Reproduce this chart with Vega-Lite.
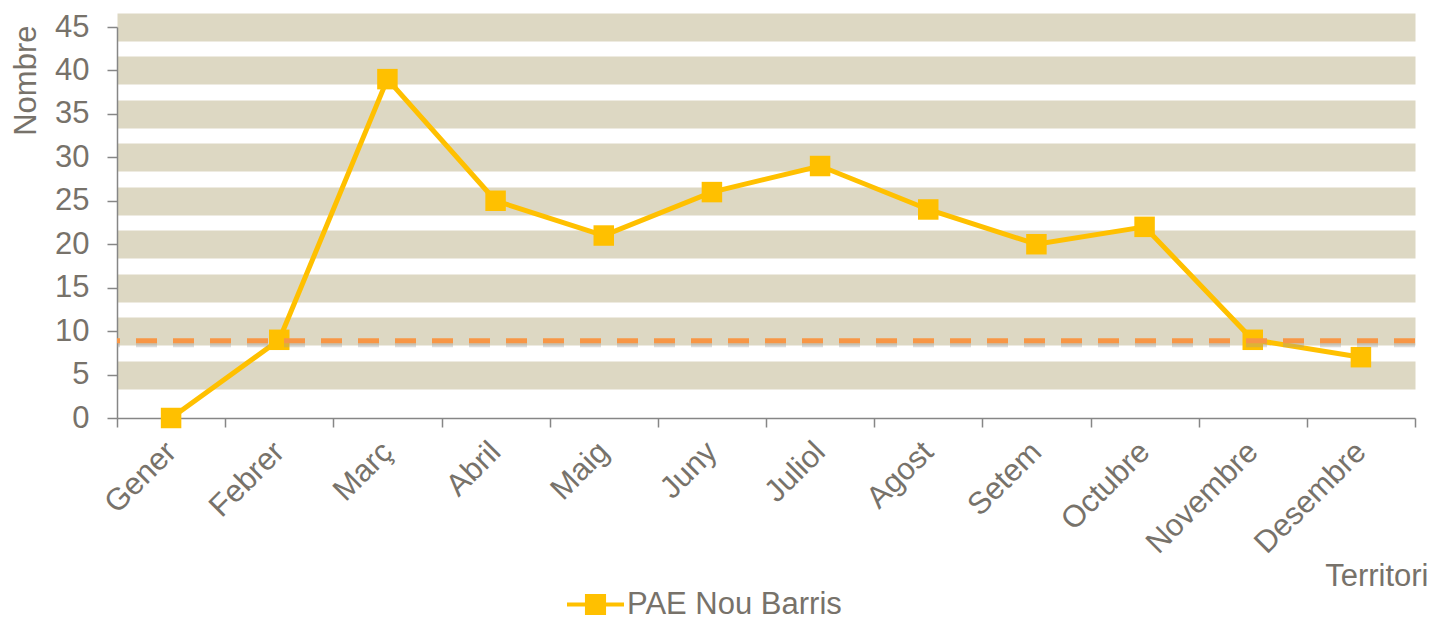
{
  "$schema": "https://vega.github.io/schema/vega-lite/v6.json",
  "width": 1298,
  "height": 391,
  "autosize": {"type": "none"},
  "padding": {"left": 117, "top": 27, "right": 18, "bottom": 201},
  "background": "white",
  "config": {
    "view": {"stroke": null},
    "font": "Liberation Sans",
    "axis": {"labelFont": "Liberation Sans", "titleFont": "Liberation Sans"}
  },
  "layer": [
    {
      "data": {
        "values": [
          {"mes": "Gener", "nombre": 0, "serie": "PAE Nou Barris"},
          {"mes": "Febrer", "nombre": 9, "serie": "PAE Nou Barris"},
          {"mes": "Març", "nombre": 39, "serie": "PAE Nou Barris"},
          {"mes": "Abril", "nombre": 25, "serie": "PAE Nou Barris"},
          {"mes": "Maig", "nombre": 21, "serie": "PAE Nou Barris"},
          {"mes": "Juny", "nombre": 26, "serie": "PAE Nou Barris"},
          {"mes": "Juliol", "nombre": 29, "serie": "PAE Nou Barris"},
          {"mes": "Agost", "nombre": 24, "serie": "PAE Nou Barris"},
          {"mes": "Setem", "nombre": 20, "serie": "PAE Nou Barris"},
          {"mes": "Octubre", "nombre": 22, "serie": "PAE Nou Barris"},
          {"mes": "Novembre", "nombre": 9, "serie": "PAE Nou Barris"},
          {"mes": "Desembre", "nombre": 7, "serie": "PAE Nou Barris"}
        ]
      },
      "mark": {
        "type": "line",
        "strokeWidth": 5,
        "point": {"shape": "square", "size": 420, "filled": true, "opacity": 1}
      },
      "encoding": {
        "x": {
          "field": "mes",
          "type": "nominal",
          "sort": null,
          "scale": {"type": "band", "paddingInner": 0, "paddingOuter": 0},
          "axis": {
            "title": "Territori",
            "titleFontSize": 31,
            "titleFontWeight": "normal",
            "titleColor": "#77726A",
            "titleAlign": "right",
            "titleBaseline": "alphabetic",
            "titleAngle": 0,
            "titleX": 1311,
            "titleY": 167,
            "labelAngle": -45,
            "labelAlign": "right",
            "labelBaseline": "middle",
            "labelPadding": 20,
            "labelFontSize": 31,
            "labelColor": "#77726A",
            "labelOverlap": false,
            "labelBound": false,
            "labelFlush": false,
            "labelLimit": 0,
            "tickBand": "extent",
            "tickSize": 9,
            "tickColor": "#868686",
            "tickWidth": 1.5,
            "domainColor": "#868686",
            "domainWidth": 1.5,
            "grid": false
          }
        },
        "y": {
          "field": "nombre",
          "type": "quantitative",
          "scale": {"domain": [0, 45], "nice": false, "zero": true},
          "axis": {
            "title": "Nombre",
            "titleFontSize": 31,
            "titleFontWeight": "normal",
            "titleColor": "#77726A",
            "titleAngle": -90,
            "titleAlign": "right",
            "titleBaseline": "alphabetic",
            "titleX": -82,
            "titleY": -2,
            "values": [0, 5, 10, 15, 20, 25, 30, 35, 40, 45],
            "labelFontSize": 31,
            "labelColor": "#77726A",
            "labelPadding": 18,
            "labelFlush": false,
            "labelBound": false,
            "tickSize": 10,
            "tickColor": "#868686",
            "tickWidth": 1.5,
            "domainColor": "#868686",
            "domainWidth": 1.5,
            "grid": true,
            "gridColor": "#DDD8C3",
            "gridWidth": 28,
            "gridOpacity": {"condition": {"test": "datum.value === 0", "value": 0}, "value": 1}
          }
        },
        "color": {
          "field": "serie",
          "type": "nominal",
          "scale": {"range": ["#FFC000"]},
          "legend": {
            "title": null,
            "orient": "none",
            "legendX": 448,
            "legendY": 547,
            "padding": 0,
            "symbolType": "M-1,0L1,0M-0.3,-0.3L0.3,-0.3L0.3,0.3L-0.3,0.3Z",
            "symbolSize": 3249,
            "symbolStrokeWidth": 4,
            "symbolFillColor": "#FFC000",
            "symbolStrokeColor": "#FFC000",
            "labelFontSize": 31,
            "labelColor": "#77726A",
            "labelOffset": 1,
            "labelLimit": 0,
            "labelBaseline": "middle"
          }
        }
      }
    },
    {
      "data": {"values": [{"mitjana": 8.9}]},
      "mark": {"type": "rule", "color": "#9A9A9A", "opacity": 0.35, "strokeWidth": 5, "strokeDash": [21, 16], "yOffset": 4},
      "encoding": {"y": {"field": "mitjana", "type": "quantitative"}}
    },
    {
      "data": {"values": [{"mitjana": 8.9}]},
      "mark": {"type": "rule", "color": "#F79646", "strokeWidth": 5, "strokeDash": [21, 16]},
      "encoding": {"y": {"field": "mitjana", "type": "quantitative"}}
    }
  ]
}
